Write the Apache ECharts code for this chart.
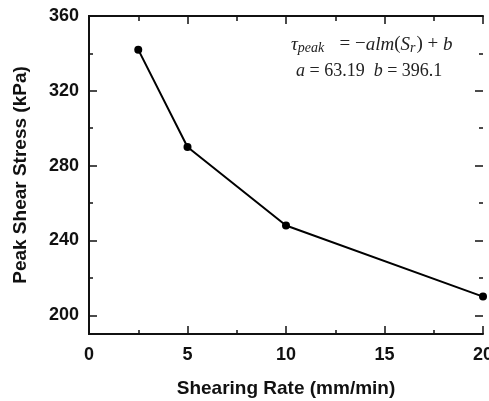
<!DOCTYPE html>
<html><head><meta charset="utf-8">
<script src="https://cdn.jsdelivr.net/npm/echarts@6/dist/echarts.min.js"></script>
<style>html,body{margin:0;padding:0;background:#fff}#c{width:489px;height:401px}</style>
</head><body><div id="c"></div>
<script>
const shearRate = [2.5, 5, 10, 20];
const peakStress = [342, 290, 248, 210];
const yTickValues = [200, 240, 280, 320, 360];
const yMinorValues = [220, 260, 300, 340];

const chart = echarts.init(document.getElementById('c'));
const lblFont = {fontFamily:'Liberation Sans, Arial', fontWeight:'bold', fontSize:18, color:'#111'};
const nameFont = {fontFamily:'Liberation Sans, Arial', fontWeight:'bold', fontSize:19, color:'#111'};
const axLine = {show:true, lineStyle:{color:'#111', width:2}};
const tickStyle = {color:'#111', width:1.5};
function tickY(pos, vals, len){
  return {
    type:'value', position:pos, offset:0, min:190, max:360,
    axisLine:{show:false},
    axisTick:{show:true, inside:true, length:len, lineStyle:tickStyle, customValues:vals},
    axisLabel:{show:false}, splitLine:{show:false}
  };
}
chart.setOption({
  animation:false,
  grid:{left:89, right:6, top:16, bottom:67, containLabel:false, outerBoundsMode:'none'},
  xAxis:[{
    type:'value', min:0, max:20, interval:5,
    name:'Shearing Rate (mm/min)', nameLocation:'middle', nameGap:45,
    nameTextStyle:nameFont,
    axisLine:axLine,
    axisTick:{inside:true, length:8, lineStyle:tickStyle},
    minorTick:{show:true, splitNumber:2, length:4, lineStyle:tickStyle},
    axisLabel:Object.assign({margin:12}, lblFont),
    splitLine:{show:false}
  },{
    type:'value', position:'top', offset:0, min:0, max:20, interval:5,
    axisLine:axLine,
    axisTick:{inside:true, length:8, lineStyle:tickStyle},
    minorTick:{show:true, splitNumber:2, length:5, lineStyle:tickStyle},
    axisLabel:{show:false}, splitLine:{show:false}
  }],
  yAxis:[{
    type:'value', position:'left', offset:0, min:190, max:360,
    name:'Peak Shear Stress (kPa)', nameLocation:'middle', nameGap:59,
    nameTextStyle:nameFont,
    axisLine:axLine,
    axisTick:{show:false},
    axisLabel:Object.assign({margin:10, customValues:yTickValues}, lblFont),
    splitLine:{show:false}
  },{
    type:'value', position:'right', offset:0, min:190, max:360,
    axisLine:axLine,
    axisTick:{show:false},
    axisLabel:{show:false}, splitLine:{show:false}
  },
  tickY('left', yTickValues, 8), tickY('right', yTickValues, 8),
  tickY('left', yMinorValues, 4), tickY('right', yMinorValues, 4)],
  series:[{
    type:'line', xAxisIndex:0, yAxisIndex:0,
    data: shearRate.map((x,i)=>[x, peakStress[i]]),
    symbol:'circle', symbolSize:8,
    itemStyle:{color:'#000'},
    lineStyle:{color:'#000', width:2},
    clip:false
  }],
  graphic:[{
    type:'text', left:291, top:35,
    style:{
      text:'{t|τ}{s|peak}{n|   = −}{i|alm}{n|(}{i|S}{s|r}{n|) + }{i|b}',
      rich:{
        t:{fontFamily:'Liberation Serif', fontStyle:'italic', fontSize:19, fill:'#222'},
        i:{fontFamily:'Liberation Serif', fontStyle:'italic', fontSize:19, fill:'#222'},
        s:{fontFamily:'Liberation Serif', fontStyle:'italic', fontSize:14, fill:'#222', verticalAlign:'bottom', padding:[7,1,0,0]},
        n:{fontFamily:'Liberation Serif', fontSize:19, fill:'#222'}
      }
    }
  },{
    type:'text', left:296, top:62,
    style:{
      text:'{i|a}{n| = 63.19  }{i|b}{n| = 396.1}',
      rich:{
        i:{fontFamily:'Liberation Serif', fontStyle:'italic', fontSize:18, fill:'#222'},
        n:{fontFamily:'Liberation Serif', fontSize:18, fill:'#222'}
      }
    }
  }]
});
</script></body></html>
